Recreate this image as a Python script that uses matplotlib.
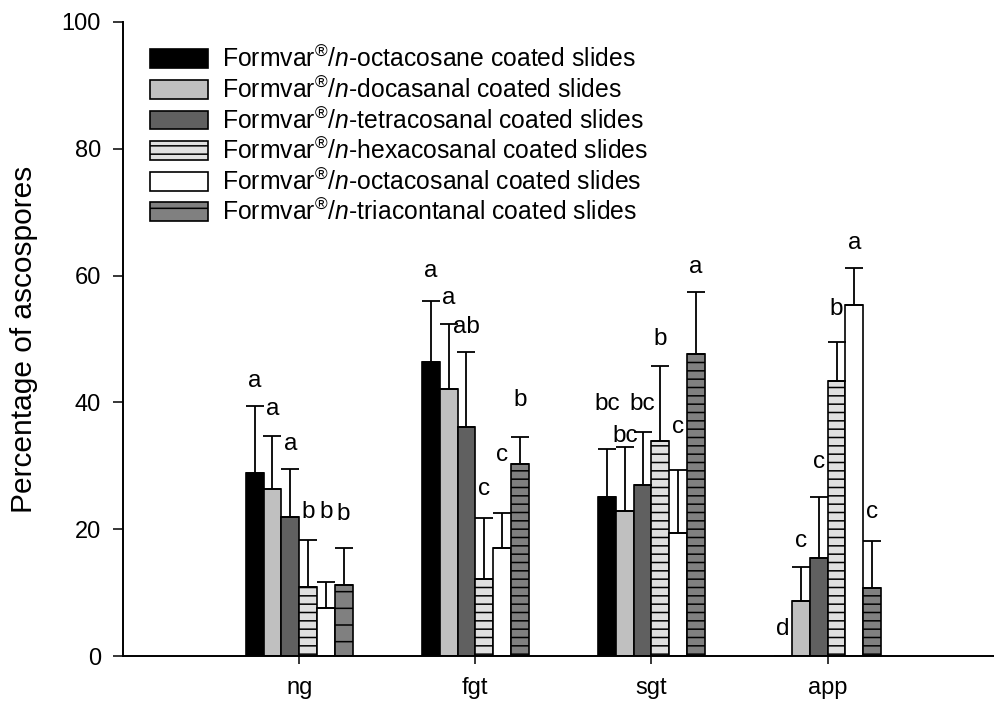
import numpy as np
import matplotlib.pyplot as plt

plt.rcParams['font.family'] = 'Liberation Sans'
plt.rcParams['mathtext.fontset'] = 'custom'
plt.rcParams['mathtext.rm'] = 'Liberation Sans'
plt.rcParams['mathtext.it'] = 'Liberation Sans:italic'
plt.rcParams['hatch.linewidth'] = 1.1

categories = ['ng', 'fgt', 'sgt', 'app']

series = ['octacosane', 'docasanal', 'tetracosanal',
          'hexacosanal', 'octacosanal', 'triacontanal']

# mean percentage of ascospores per stage
octacosane = [28.8, 46.4, 25.1, 0.0]
docasanal = [26.4, 42.1, 22.9, 8.6]
tetracosanal = [21.9, 36.1, 27.0, 15.4]
hexacosanal = [10.9, 12.1, 33.9, 43.3]
octacosanal = [7.5, 17.1, 19.4, 55.4]
triacontanal = [11.2, 30.3, 47.7, 10.8]

# standard errors (upper bars only)
octacosane_se = [10.6, 9.6, 7.5, 0.0]
docasanal_se = [8.3, 10.3, 10.0, 5.5]
tetracosanal_se = [7.6, 11.8, 8.3, 9.7]
hexacosanal_se = [7.4, 9.6, 11.8, 6.3]
octacosanal_se = [4.2, 5.4, 9.9, 5.8]
triacontanal_se = [5.9, 4.3, 9.7, 7.3]

# significance letters
octacosane_sig = ['a', 'a', 'bc', 'd']
docasanal_sig = ['a', 'a', 'bc', 'c']
tetracosanal_sig = ['a', 'ab', 'bc', 'c']
hexacosanal_sig = ['b', 'c', 'b', 'b']
octacosanal_sig = ['b', 'c', 'c', 'a']
triacontanal_sig = ['b', 'b', 'a', 'c']

means = [octacosane, docasanal, tetracosanal, hexacosanal, octacosanal, triacontanal]
errs = [octacosane_se, docasanal_se, tetracosanal_se, hexacosanal_se,
        octacosanal_se, triacontanal_se]
sigs = [octacosane_sig, docasanal_sig, tetracosanal_sig, hexacosanal_sig,
        octacosanal_sig, triacontanal_sig]

# bar styling
fills = ['#000000', '#c0c0c0', '#606060', '#e0e0e0', '#ffffff', '#808080']
hatches = [None, None, None, '--', None, '--']

# hand placed letter offsets above the caps, in points
label_gap = [[14, 17, 28, 15],
             [15, 14, 4, 14],
             [14, 14, 16, 21],
             [16, 17, 15, 19],
             [46, 38, 27, 14],
             [20, 22, 14, 17]]

fig = plt.figure(figsize=(9.95, 7.07), dpi=100)
ax = fig.add_axes([0.1236, 0.0721, 0.8764, 0.8968])

x = np.arange(1, len(categories) + 1)
w = 0.101
for i in range(len(series)):
    pos = x + (i - 2.5) * w
    lbl = r'Formvar$^{\mathrm{®}}$/$\mathit{n}$-' + series[i] + ' coated slides'
    bars = ax.bar(pos, means[i], w, color=fills[i], edgecolor='black',
                  linewidth=1.2, hatch=hatches[i], label=lbl, zorder=2)
    if series[i] == 'triacontanal':
        bars[0].set_hatch('-')
    e = np.array(errs[i])
    ok = e > 0
    ax.errorbar(pos[ok], np.array(means[i])[ok], yerr=[np.zeros(ok.sum()), e[ok]],
                fmt='none', ecolor='black', elinewidth=1.3, capsize=6.5,
                capthick=1.3, zorder=3)
    for p, m, se, s, g in zip(pos, means[i], errs[i], sigs[i], label_gap[i]):
        ax.annotate(s, (p, m + se), xytext=(0, g), textcoords='offset points',
                    ha='center', va='baseline', fontsize=17.5)

ax.set_xlim(0, 4.95)
ax.set_ylim(0, 100)
ax.set_xticks(x)
ax.set_xticklabels(categories)
ax.set_yticks(np.arange(0, 101, 20))
ax.set_ylabel('Percentage of ascospores', fontsize=21.5)
ax.yaxis.set_label_coords(-0.098, 0.5)

for side in ['top', 'right']:
    ax.spines[side].set_visible(False)
for side in ['left', 'bottom']:
    ax.spines[side].set_linewidth(1.4)
ax.tick_params(axis='y', direction='out', length=7, width=1.1, labelsize=17, pad=9)
ax.tick_params(axis='x', direction='out', length=6, width=1.1, labelsize=17, pad=9)

ax.legend(loc='upper left', bbox_to_anchor=(150 / 995, 1 - 46 / 707),
          bbox_transform=fig.transFigure, frameon=False, fontsize=17.8,
          handlelength=2.35, handleheight=0.8, handletextpad=0.57,
          labelspacing=0.17, borderpad=0, borderaxespad=0)

fig.savefig('out.png', dpi=100)
